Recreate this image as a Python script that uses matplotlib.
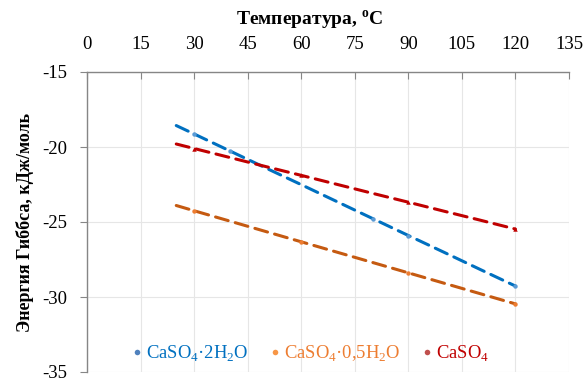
import matplotlib
matplotlib.use("Agg")
import matplotlib.pyplot as plt
from matplotlib.lines import Line2D

plt.rcParams["font.family"] = ["Liberation Serif", "DejaVu Serif"]
plt.rcParams["mathtext.fontset"] = "custom"
plt.rcParams["mathtext.rm"] = "Liberation Serif"
plt.rcParams["mathtext.bf"] = "Liberation Serif:bold"
plt.rcParams["axes.unicode_minus"] = False

# temperatures, degC
temps = [25, 30, 40, 50, 60, 70, 80, 90, 100, 110, 120]
# Gibbs energy, kJ/mol
g_dihydrate = [-18.57, -19.13, -20.26, -21.39, -22.51, -23.64, -24.77, -25.90, -27.02, -28.15, -29.27]
g_hemihydrate = [-23.90, -24.25, -24.94, -25.63, -26.32, -27.01, -27.70, -28.39, -29.08, -29.77, -30.46]
g_anhydrite = [-19.80, -20.10, -20.70, -21.30, -21.89, -22.49, -23.09, -23.68, -24.28, -24.87, -25.47]

# which points show a marker
marks_dihydrate = [1, 2, 6, 7, 10]
marks_hemihydrate = [1, 4, 7, 10]
marks_anhydrite = [1, 4, 7, 10]

labels = ["CaSO$_4$·2H$_2$O", "CaSO$_4$·0,5H$_2$O", "CaSO$_4$"]
line_colors = ["#0070c0", "#c55a11", "#c00000"]
marker_colors = ["#5b9bd5", "#ed7d31", "#c00000"]
legend_marker_colors = ["#4f81bd", "#f79646", "#c0504d"]
text_colors = ["#0070c0", "#ed7d31", "#c00000"]

fig = plt.figure(figsize=(5.86, 3.79), dpi=100)
ax = fig.add_axes([87 / 586, 1 - 372 / 379, (569 - 87) / 586, 300 / 379])

series = [(g_dihydrate, marks_dihydrate, "o"),
          (g_hemihydrate, marks_hemihydrate, "o"),
          (g_anhydrite, marks_anhydrite, "^")]
for i, (vals, marks, mk) in enumerate(series):
    ax.plot(temps, vals, color=line_colors[i], lw=2.2, linestyle=(0, (4.3, 2.4)),
            dash_capstyle="round", zorder=3)
    ax.plot([temps[j] for j in marks], [vals[j] for j in marks], linestyle="none",
            marker=mk, ms=3.2, color=marker_colors[i], mec="none", zorder=4)

ax.set_xlim(0, 135)
ax.set_ylim(-35, -15)
ax.set_xticks(range(0, 136, 15))
ax.set_yticks(range(-35, -14, 5))
ax.xaxis.tick_top()
ax.grid(True, color="#e6e6e6", lw=0.8)
ax.set_axisbelow(True)
for s in ["bottom", "right"]:
    ax.spines[s].set_visible(False)
for s in ["top", "left"]:
    ax.spines[s].set_color("#868686")
    ax.spines[s].set_linewidth(1.0)
ax.tick_params(axis="x", direction="in", length=5, color="#868686", labelsize=13.5, pad=14)
ax.tick_params(axis="y", direction="out", length=5, color="#868686", labelsize=13.5, pad=9.5)

ax.set_ylabel("Энергия Гиббса, кДж/моль", fontsize=13, fontweight="bold", labelpad=6)
fig.text(310 / 586, 1 - 20 / 379, "Температура, $^{\\mathbf{o}}$C",
         ha="center", va="center", fontsize=14, fontweight="bold")

handles = [Line2D([], [], linestyle="none", marker="o", ms=4, color=c, mec="none")
           for c in legend_marker_colors]
leg = ax.legend(handles, labels, loc="center left", bbox_to_anchor=(0.08, 0.06),
                ncol=3, frameon=False, fontsize=13.4, handlelength=0.4,
                handletextpad=0.3, columnspacing=1.2, labelcolor=text_colors,
                borderaxespad=0)

fig.savefig("out.png", dpi=100)
